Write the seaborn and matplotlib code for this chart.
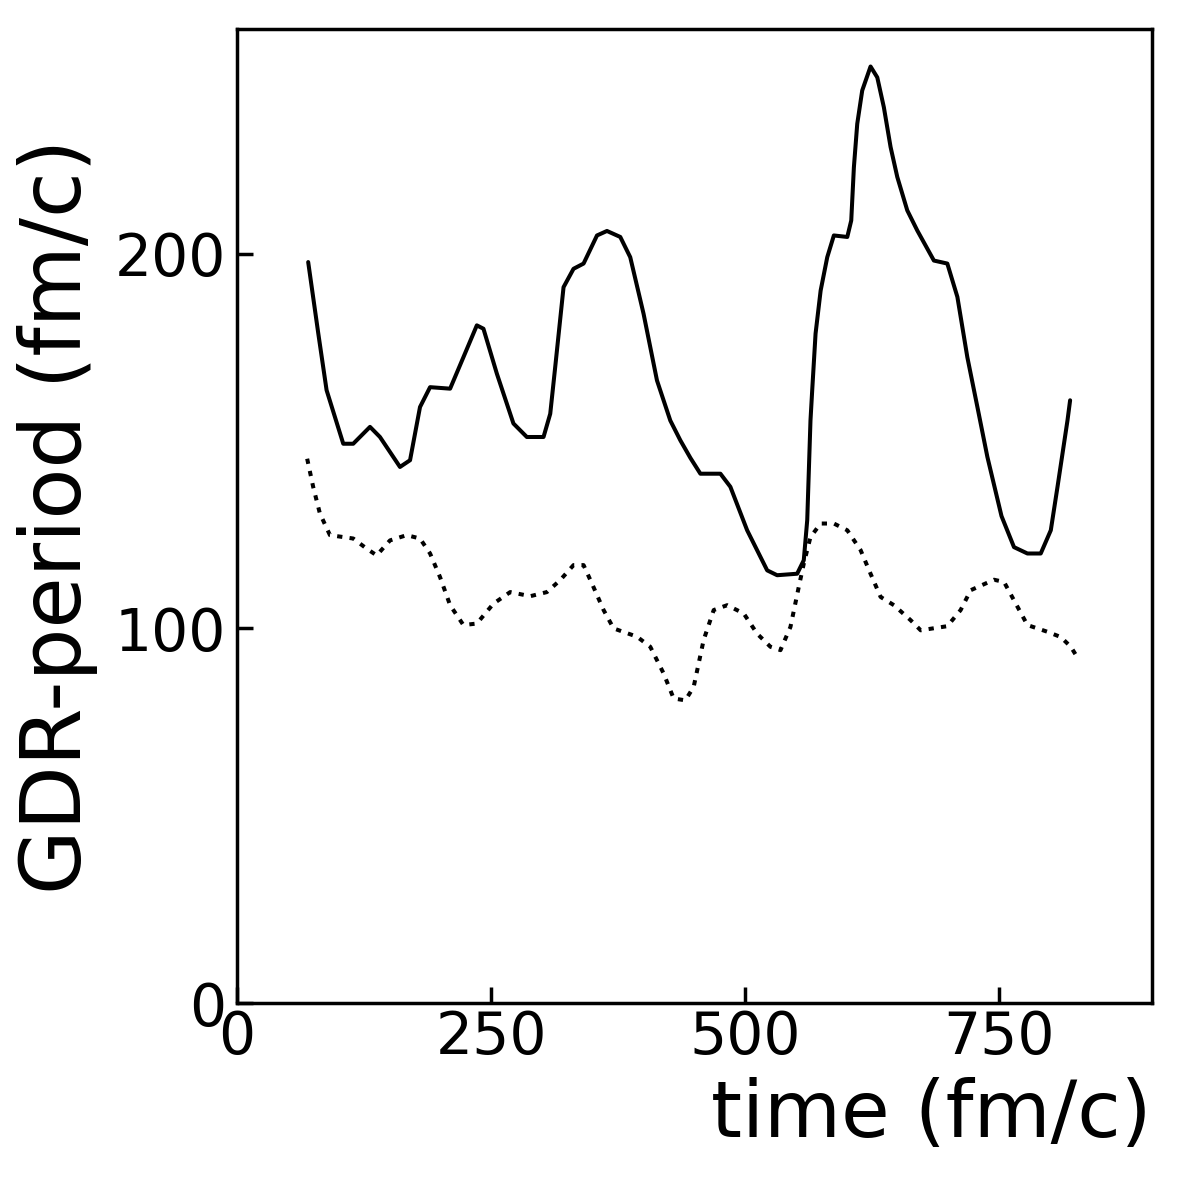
import numpy as np
import pandas as pd
import matplotlib
matplotlib.use('Agg')
import matplotlib.pyplot as plt
import seaborn as sns

# solid curve (time in fm/c, period in fm/c)
solid_t = [70.0, 79.9, 88.1, 104.5, 114.3, 130.8, 140.6, 160.3, 170.2, 180.0,
           189.9, 209.6, 222.7, 235.9, 242.4, 255.6, 271.9, 285.1, 301.5, 308.1,
           313.0, 321.2, 331.0, 340.9, 354.1, 363.9, 377.0, 386.8, 399.9, 413.1,
           426.2, 436.1, 446.0, 455.8, 475.5, 485.3, 501.8, 521.5, 531.3, 551.0,
           557.5, 560.9, 564.1, 565.8, 569.1, 574.1, 580.6, 587.1, 600.3, 604.2,
           606.8, 610.1, 615.0, 623.2, 629.8, 636.3, 642.9, 649.5, 659.3, 669.2,
           685.5, 698.7, 708.6, 718.4, 728.3, 738.1, 752.0, 764.3, 777.5, 790.6,
           800.5, 807.1, 816.9, 819.5]
solid_p = [197.8, 178.8, 163.6, 149.3, 149.3, 153.8, 151.1, 143.1, 144.9, 159.1,
           164.4, 164.0, 172.4, 180.9, 180.0, 168.0, 154.7, 151.1, 151.1, 157.3,
           169.8, 191.1, 196.0, 197.4, 204.9, 206.1, 204.5, 199.1, 184.0, 166.2,
           155.5, 150.2, 145.5, 141.3, 141.3, 137.8, 126.2, 115.5, 114.2, 114.6,
           118.2, 128.9, 155.5, 163.6, 178.7, 190.2, 199.1, 204.9, 204.5, 208.9,
           223.1, 234.7, 243.6, 250.0, 247.1, 239.1, 228.5, 220.5, 211.6, 206.2,
           198.2, 197.4, 188.5, 172.4, 159.1, 145.8, 130.0, 121.7, 120.0, 120.0,
           126.2, 137.8, 155.5, 160.9]

# dotted curve
dotted_t = [69.0, 74.9, 81.5, 91.4, 114.3, 127.5, 137.4, 150.5, 166.9, 180.0,
            189.9, 199.7, 209.6, 222.7, 235.9, 252.2, 268.7, 288.4, 304.8, 317.9,
            331.0, 340.9, 349.1, 360.6, 370.4, 393.4, 406.5, 419.6, 429.5, 441.0,
            449.2, 459.0, 468.9, 482.1, 498.4, 511.6, 524.7, 534.6, 544.4, 552.6,
            557.5, 564.1, 574.1, 587.1, 600.3, 613.4, 623.2, 633.1, 646.2, 662.6,
            672.5, 698.7, 711.8, 721.7, 744.6, 754.5, 764.3, 777.5, 797.2, 810.3,
            820.2, 826.8]
dotted_p = [145.3, 137.8, 130.7, 124.9, 124.0, 121.3, 119.5, 123.5, 124.9, 124.0,
            120.0, 113.7, 106.2, 100.9, 101.3, 106.6, 109.7, 108.6, 109.7, 112.9,
            116.9, 116.9, 112.0, 104.9, 100.0, 97.8, 95.1, 88.0, 81.3, 80.8,
            84.4, 96.9, 104.9, 106.2, 104.0, 98.6, 95.1, 94.2, 100.4, 111.1,
            117.3, 124.4, 128.0, 128.0, 126.2, 120.9, 114.6, 108.4, 106.2, 102.2,
            99.5, 100.6, 104.9, 110.2, 113.0, 112.4, 107.5, 100.9, 99.1, 97.7,
            95.1, 92.2]

x_ticks = [0, 250, 500, 750]
y_ticks = [0, 100, 200]

sns.set_style('ticks')
plt.rcParams['font.family'] = ['DejaVu Sans']
plt.rcParams['text.color'] = 'black'
plt.rcParams['axes.labelcolor'] = 'black'

fig = plt.figure(figsize=(11.81, 11.81), dpi=100)
ax = fig.add_axes([0.2007, 0.1507, 0.7747, 0.8247])

sns.lineplot(x=solid_t, y=solid_p, color='black', linewidth=2.9, ax=ax)
sns.lineplot(x=dotted_t, y=dotted_p, color='black', linewidth=2.9,
             linestyle=(0, (1.3, 1.8)), ax=ax)

ax.set_xlim(0, 900)
ax.set_ylim(0, 260)
ax.set_xticks(x_ticks)
ax.set_yticks(y_ticks)
ax.tick_params(axis='both', direction='in', length=11.5, width=2.5,
               labelsize=42, color='black', labelcolor='black')
ax.tick_params(axis='x', pad=4)
ax.tick_params(axis='y', pad=8)
for s in ax.spines.values():
    s.set_linewidth(2.5)
    s.set_color('black')
    s.set_visible(True)

ax.set_xlabel('time (fm/c)', fontsize=57, loc='right', labelpad=8, color='black')
ax.set_ylabel('GDR-period (fm/c)', fontsize=60, labelpad=12, color='black')
ax.yaxis.set_label_coords(-0.152, 0.5)

fig.savefig('out.png', dpi=100, facecolor='white')
